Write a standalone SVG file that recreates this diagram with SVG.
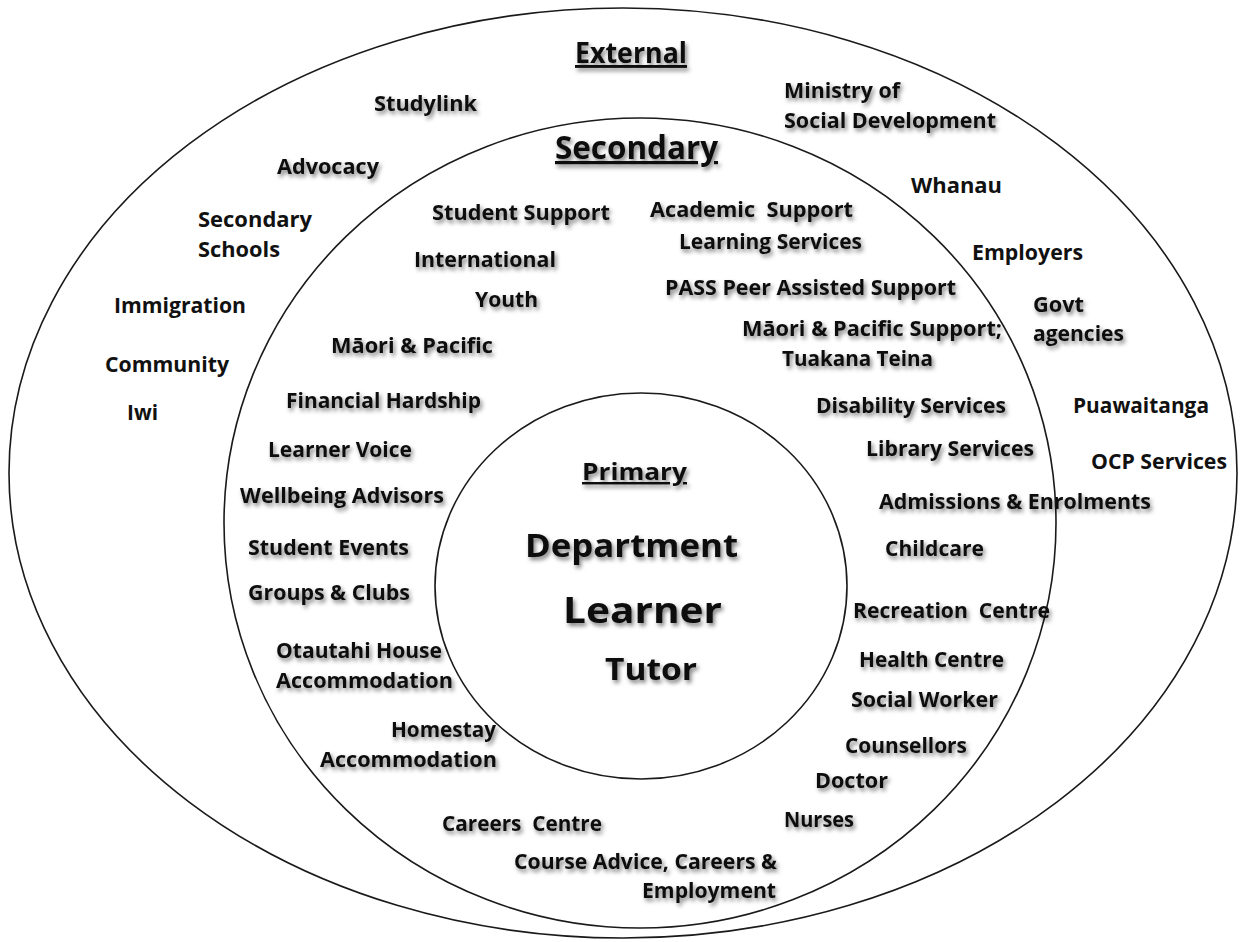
<svg xmlns="http://www.w3.org/2000/svg" width="1241" height="942" viewBox="0 0 1241 942">
<defs>
<filter id="sh" x="-10%" y="-40%" width="125%" height="190%">
<feDropShadow dx="2" dy="3" stdDeviation="2.2" flood-color="#000" flood-opacity="0.5"/>
</filter>
<style>
.ring{fill:none;stroke:#1a1a1a;stroke-width:1.6}
text{font-family:"Open Sans","Liberation Sans",Arial,sans-serif;font-weight:700;fill:#111;font-size:21px}
.s{filter:url(#sh)}
.t1{font-size:29px;text-decoration:underline}
.t2{font-size:32px;text-decoration:underline}
.t3{font-size:24px;text-decoration:underline}
.big{font-size:33px}
.big2{font-size:36px}
.big3{font-size:31px}
</style>
</defs>
<rect width="1241" height="942" fill="#fff"/>
<g id="rings">
<ellipse id="external-ring" class="ring" cx="623" cy="473" rx="614" ry="465"/>
<ellipse id="secondary-ring" class="ring" cx="640" cy="523" rx="416" ry="405"/>
<ellipse id="primary-ring" class="ring" cx="641" cy="586" rx="206" ry="193"/>
</g>
<g id="titles">
<text id="external-title" class="t1 s" x="575" y="63" textLength="112" lengthAdjust="spacingAndGlyphs">External</text>
<text id="secondary-title" class="t2 s" x="555" y="159" textLength="163" lengthAdjust="spacingAndGlyphs">Secondary</text>
<text id="primary-title" class="t3 s" x="582" y="480" textLength="105" lengthAdjust="spacingAndGlyphs">Primary</text>
</g>
<g id="primary">
<text id="department" class="big s" x="525" y="557" textLength="213" lengthAdjust="spacingAndGlyphs">Department</text>
<text id="learner" class="big2 s" x="563" y="623" textLength="159" lengthAdjust="spacingAndGlyphs">Learner</text>
<text id="tutor" class="big3 s" x="605" y="680" textLength="92" lengthAdjust="spacingAndGlyphs">Tutor</text>
</g>
<g id="external">
<g id="studylink"><text class="s" x="374" y="111" textLength="103" lengthAdjust="spacingAndGlyphs">Studylink</text></g>
<g id="advocacy"><text class="s" x="277" y="174" textLength="102" lengthAdjust="spacingAndGlyphs">Advocacy</text></g>
<g id="secondary-schools"><text x="198" y="227" textLength="114" lengthAdjust="spacingAndGlyphs">Secondary</text><text x="198" y="257" textLength="82" lengthAdjust="spacingAndGlyphs">Schools</text></g>
<g id="immigration"><text x="114" y="313" textLength="132" lengthAdjust="spacingAndGlyphs">Immigration</text></g>
<g id="community"><text x="105" y="372" textLength="124" lengthAdjust="spacingAndGlyphs">Community</text></g>
<g id="iwi"><text x="127" y="420" textLength="31" lengthAdjust="spacingAndGlyphs">Iwi</text></g>
<g id="msd"><text class="s" x="784" y="98" textLength="116" lengthAdjust="spacingAndGlyphs">Ministry of</text><text class="s" x="784" y="128" textLength="212" lengthAdjust="spacingAndGlyphs">Social Development</text></g>
<g id="whanau"><text x="911" y="193" textLength="91" lengthAdjust="spacingAndGlyphs">Whanau</text></g>
<g id="employers"><text x="972" y="260" textLength="111" lengthAdjust="spacingAndGlyphs">Employers</text></g>
<g id="govt-agencies"><text class="s" x="1033" y="312" textLength="51" lengthAdjust="spacingAndGlyphs">Govt</text><text class="s" x="1033" y="341" textLength="91" lengthAdjust="spacingAndGlyphs">agencies</text></g>
<g id="puawaitanga"><text x="1073" y="413" textLength="136" lengthAdjust="spacingAndGlyphs">Puawaitanga</text></g>
<g id="ocp"><text x="1091" y="469" textLength="136" lengthAdjust="spacingAndGlyphs">OCP Services</text></g>
</g>
<g id="secondary" class="s">
<g id="student-support"><text x="432" y="220" textLength="178" lengthAdjust="spacingAndGlyphs">Student Support</text></g>
<g id="academic-support"><text x="650" y="217" textLength="203" lengthAdjust="spacingAndGlyphs" xml:space="preserve">Academic  Support</text><text x="679" y="249" textLength="183" lengthAdjust="spacingAndGlyphs">Learning Services</text></g>
<g id="international"><text x="414" y="267" textLength="142" lengthAdjust="spacingAndGlyphs">International</text></g>
<g id="pass"><text x="665" y="295" textLength="291" lengthAdjust="spacingAndGlyphs">PASS Peer Assisted Support</text></g>
<g id="youth"><text x="475" y="307" textLength="63" lengthAdjust="spacingAndGlyphs">Youth</text></g>
<g id="maori-pacific-support"><text x="742" y="336" textLength="260" lengthAdjust="spacingAndGlyphs">Māori &amp; Pacific Support;</text><text x="782" y="366" textLength="151" lengthAdjust="spacingAndGlyphs">Tuakana Teina</text></g>
<g id="maori-pacific"><text x="331" y="353" textLength="162" lengthAdjust="spacingAndGlyphs">Māori &amp; Pacific</text></g>
<g id="financial-hardship"><text x="286" y="408" textLength="195" lengthAdjust="spacingAndGlyphs">Financial Hardship</text></g>
<g id="disability"><text x="816" y="413" textLength="190" lengthAdjust="spacingAndGlyphs">Disability Services</text></g>
<g id="learner-voice"><text x="268" y="457" textLength="144" lengthAdjust="spacingAndGlyphs">Learner Voice</text></g>
<g id="library"><text x="866" y="456" textLength="168" lengthAdjust="spacingAndGlyphs">Library Services</text></g>
<g id="wellbeing"><text x="240" y="503" textLength="204" lengthAdjust="spacingAndGlyphs">Wellbeing Advisors</text></g>
<g id="admissions"><text x="879" y="509" textLength="272" lengthAdjust="spacingAndGlyphs">Admissions &amp; Enrolments</text></g>
<g id="student-events"><text x="248" y="555" textLength="161" lengthAdjust="spacingAndGlyphs">Student Events</text></g>
<g id="childcare"><text x="885" y="556" textLength="99" lengthAdjust="spacingAndGlyphs">Childcare</text></g>
<g id="groups-clubs"><text x="248" y="600" textLength="162" lengthAdjust="spacingAndGlyphs">Groups &amp; Clubs</text></g>
<g id="recreation"><text x="853" y="618" textLength="197" lengthAdjust="spacingAndGlyphs" xml:space="preserve">Recreation  Centre</text></g>
<g id="otautahi"><text x="276" y="658" textLength="166" lengthAdjust="spacingAndGlyphs">Otautahi House</text><text x="276" y="688" textLength="177" lengthAdjust="spacingAndGlyphs">Accommodation</text></g>
<g id="health-centre"><text x="859" y="667" textLength="145" lengthAdjust="spacingAndGlyphs">Health Centre</text></g>
<g id="social-worker"><text x="851" y="707" textLength="147" lengthAdjust="spacingAndGlyphs">Social Worker</text></g>
<g id="homestay"><text x="391" y="737" textLength="105" lengthAdjust="spacingAndGlyphs">Homestay</text><text x="320" y="767" textLength="177" lengthAdjust="spacingAndGlyphs">Accommodation</text></g>
<g id="counsellors"><text x="845" y="753" textLength="122" lengthAdjust="spacingAndGlyphs">Counsellors</text></g>
<g id="doctor"><text x="815" y="788" textLength="73" lengthAdjust="spacingAndGlyphs">Doctor</text></g>
<g id="nurses"><text x="784" y="827" textLength="70" lengthAdjust="spacingAndGlyphs">Nurses</text></g>
<g id="careers-centre"><text x="442" y="831" textLength="160" lengthAdjust="spacingAndGlyphs" xml:space="preserve">Careers  Centre</text></g>
<g id="course-advice"><text x="514" y="869" textLength="263" lengthAdjust="spacingAndGlyphs">Course Advice, Careers &amp;</text><text x="642" y="898" textLength="134" lengthAdjust="spacingAndGlyphs">Employment</text></g>
</g>
</svg>
